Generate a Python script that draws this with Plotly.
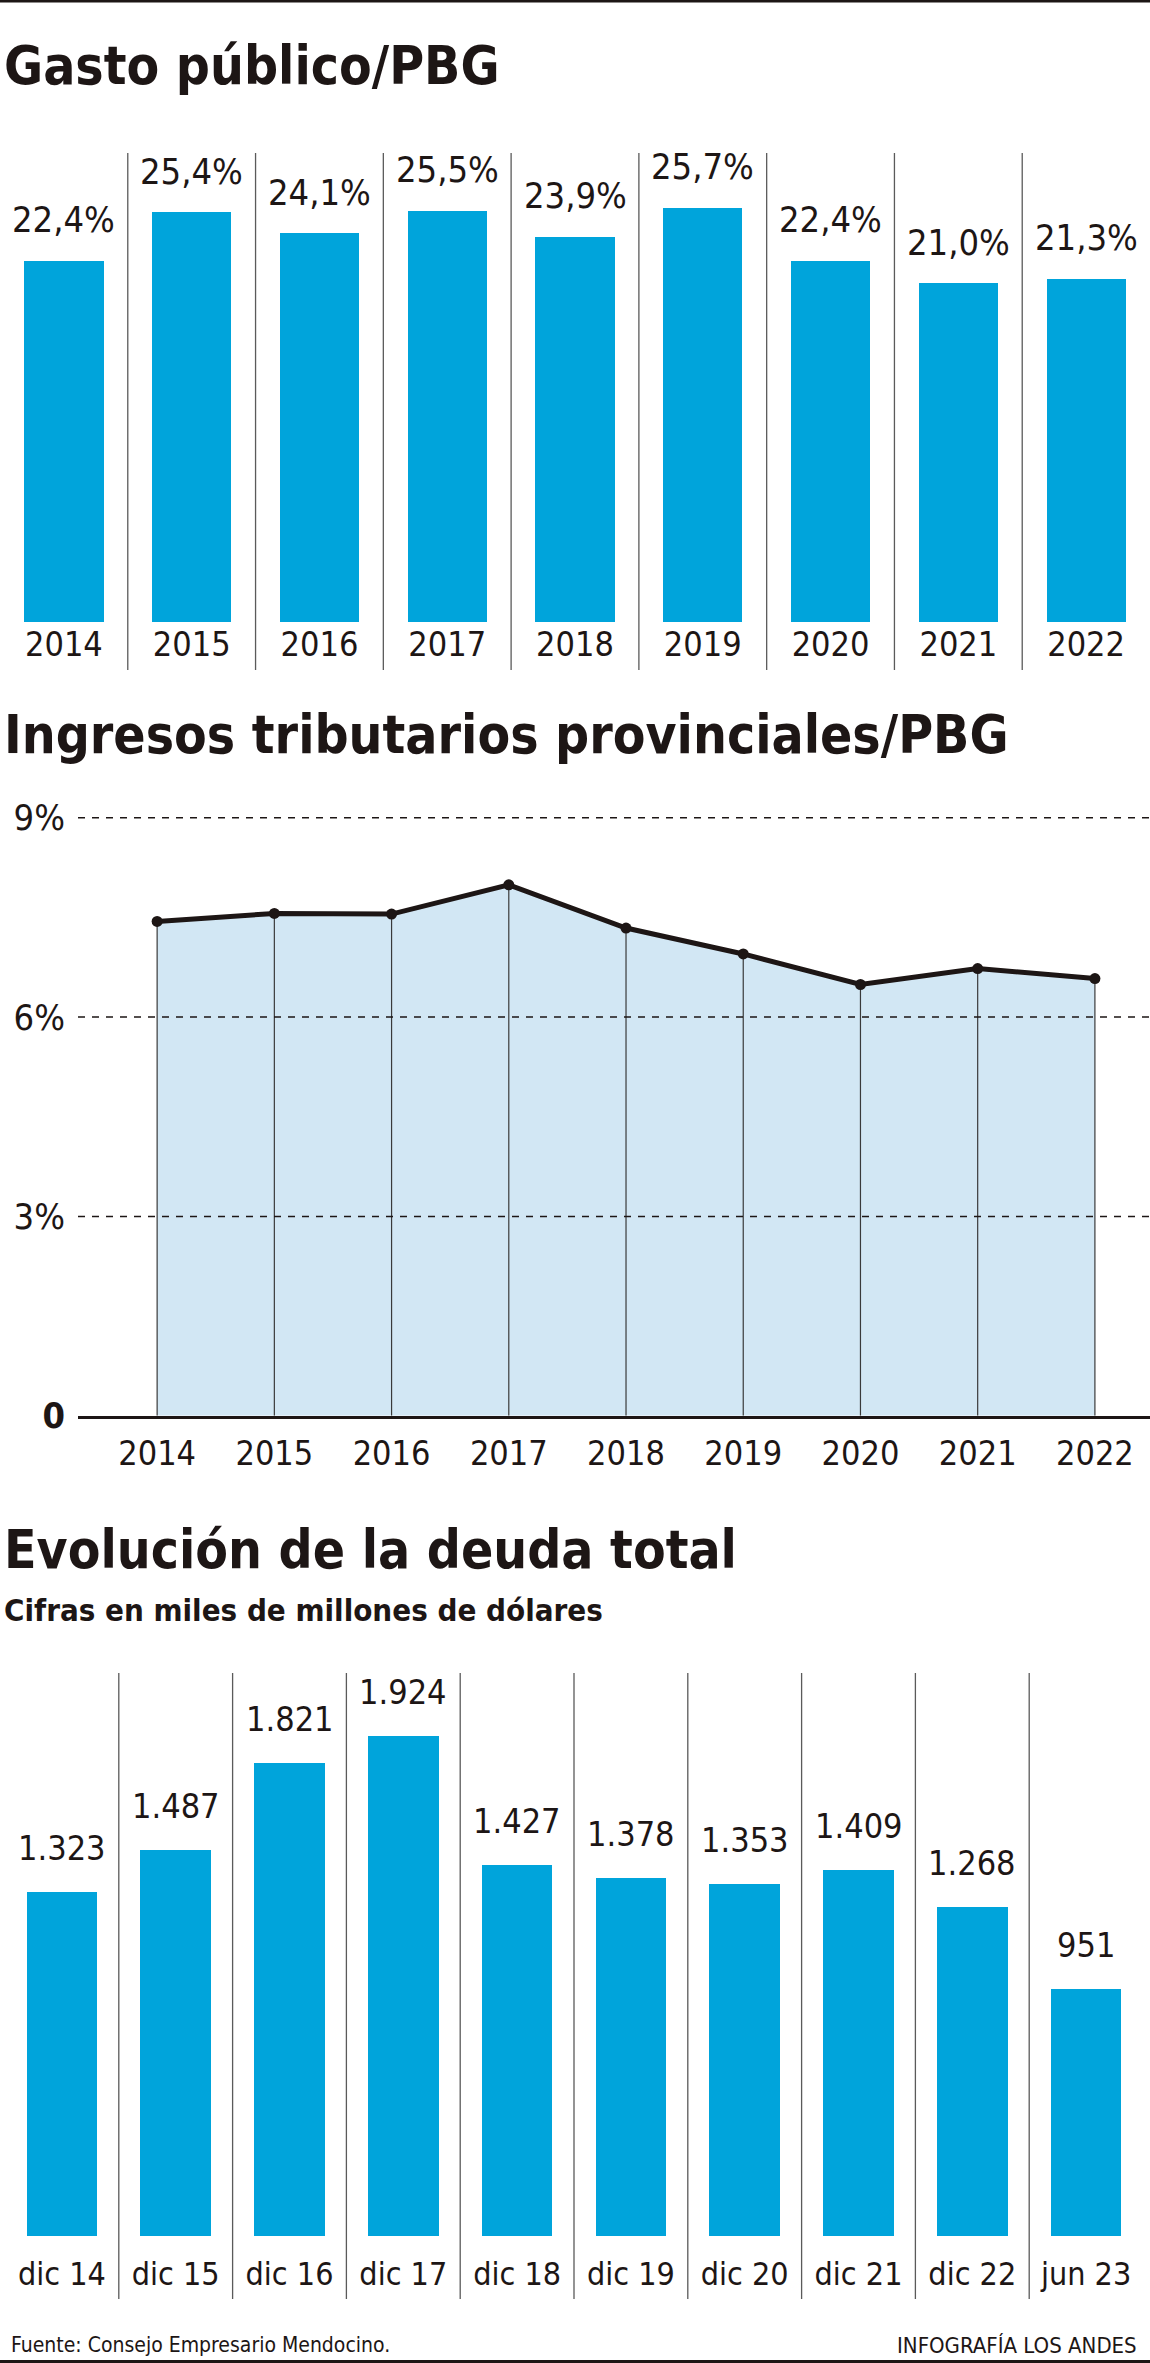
import plotly.graph_objects as go

# ---------------- data ----------------
years = ["2014", "2015", "2016", "2017", "2018", "2019", "2020", "2021", "2022"]
gasto_publico = [22.4, 25.4, 24.1, 25.5, 23.9, 25.7, 22.4, 21.0, 21.3]

ingresos_years = ["2014", "2015", "2016", "2017", "2018", "2019", "2020", "2021", "2022"]
ingresos_tributarios = [7.44, 7.56, 7.55, 7.99, 7.34, 6.95, 6.49, 6.73, 6.58]
ingresos_tickvals = [0, 3, 6, 9]
ingresos_ticktext = ["<b>0</b>", "3%", "6%", "9%"]

deuda_periodos = ["dic 14", "dic 15", "dic 16", "dic 17", "dic 18",
                  "dic 19", "dic 20", "dic 21", "dic 22", "jun 23"]
deuda_total = [1323, 1487, 1821, 1924, 1427, 1378, 1353, 1409, 1268, 951]

titles = ["Gasto público/PBG", "Ingresos tributarios provinciales/PBG", "Evolución de la deuda total"]
subtitle = "Cifras en miles de millones de dólares"
source = "Fuente: Consejo Empresario Mendocino."
credit = "INFOGRAFÍA LOS ANDES"

# ---------------- style ----------------
W, H = 1150, 2363
FONT = "DejaVu Sans Condensed, Liberation Sans Narrow, DejaVu Sans, sans-serif"
INK = "#1d1615"
BLUE = "#00a4db"
FILL = "#d2e7f4"
SEP = "#5a5a5a"


def py(px):
    return 1 - px / H


def fmt_pct(v):
    return f"{v:.1f}%".replace(".", ",")


def fmt_miles(v):
    return f"{v:,}".replace(",", ".")


fig = go.Figure()

# ---- chart 1: bars ----
fig.add_trace(go.Bar(x=list(range(len(years))), y=gasto_publico,
                     marker=dict(color=BLUE, line=dict(width=0)),
                     width=0.62, xaxis="x", yaxis="y", hoverinfo="skip"))

# ---- chart 2: area + verticals + line ----
ix = list(range(len(ingresos_years)))
fig.add_trace(go.Scatter(x=ix, y=ingresos_tributarios, mode="lines", fill="tozeroy",
                         fillcolor=FILL, line=dict(width=0), xaxis="x2", yaxis="y2", hoverinfo="skip"))
vx, vy = [], []
for c, v in zip(ix, ingresos_tributarios):
    vx += [c, c, None]
    vy += [0, v, None]
fig.add_trace(go.Scatter(x=vx, y=vy, mode="lines", line=dict(color="#3a3a3a", width=1.2),
                         xaxis="x2", yaxis="y2", hoverinfo="skip"))
fig.add_trace(go.Scatter(x=ix, y=ingresos_tributarios, mode="lines+markers",
                         line=dict(color=INK, width=5), marker=dict(color=INK, size=11),
                         xaxis="x2", yaxis="y2", hoverinfo="skip"))

# ---- chart 3: bars ----
dx = list(range(len(deuda_periodos)))
fig.add_trace(go.Bar(x=dx, y=deuda_total, marker=dict(color=BLUE, line=dict(width=0)),
                     width=0.62, xaxis="x3", yaxis="y3", hoverinfo="skip"))

shapes = []
annotations = []

# separators chart 1
for i in range(len(years) - 1):
    shapes.append(dict(type="line", xref="x", yref="paper", x0=i + 0.5, x1=i + 0.5,
                       y0=py(670), y1=py(153), line=dict(color=SEP, width=1.3)))
# separators chart 3
for i in range(len(deuda_periodos) - 1):
    shapes.append(dict(type="line", xref="x3", yref="paper", x0=i + 0.5, x1=i + 0.5,
                       y0=py(2299), y1=py(1673), line=dict(color=SEP, width=1.3)))
# dashed grid chart 2 (above the fill)
for t in ingresos_tickvals[1:]:
    shapes.append(dict(type="line", xref="x2 domain", yref="y2", x0=0, x1=1, y0=t, y1=t,
                       line=dict(color=INK, width=1.5, dash="7px,7px"), layer="above"))
# top and bottom rules
shapes.append(dict(type="line", xref="paper", yref="paper", x0=0, x1=1, y0=py(1), y1=py(1),
                   line=dict(color=INK, width=3)))
shapes.append(dict(type="line", xref="paper", yref="paper", x0=0, x1=1, y0=py(2361.5), y1=py(2361.5),
                   line=dict(color=INK, width=3)))

# value labels
for i, v in enumerate(gasto_publico):
    annotations.append(dict(x=i, y=v, xref="x", yref="y", text=fmt_pct(v), showarrow=False,
                            yanchor="middle", yshift=41, font=dict(family=FONT, size=36, color=INK)))
for i, v in enumerate(deuda_total):
    annotations.append(dict(x=i, y=v, xref="x3", yref="y3", text=fmt_miles(v), showarrow=False,
                            yanchor="middle", yshift=44, font=dict(family=FONT, size=34, color=INK)))

# titles
for txt, cy in zip(titles, [66, 734.5, 1549]):
    annotations.append(dict(x=0.002, y=py(cy), xref="paper", yref="paper", text=f"<b>{txt}</b>",
                            showarrow=False, xanchor="left", yanchor="middle",
                            font=dict(family=FONT, size=53, color=INK)))
annotations.append(dict(x=0.002, y=py(1610), xref="paper", yref="paper", text=f"<b>{subtitle}</b>",
                        showarrow=False, xanchor="left", yanchor="middle",
                        font=dict(family=FONT, size=31, color=INK)))
annotations.append(dict(x=9 / W, y=py(2345), xref="paper", yref="paper", text=source,
                        showarrow=False, xanchor="left", yanchor="middle",
                        font=dict(family=FONT, size=21, color=INK)))
annotations.append(dict(x=1139 / W, y=py(2345), xref="paper", yref="paper", text=credit,
                        showarrow=False, xanchor="right", yanchor="middle",
                        font=dict(family=FONT, size=22, color=INK)))

axis_common = dict(showgrid=False, zeroline=False, ticks="", fixedrange=True, automargin=False,
                   tickangle=0)

fig.update_layout(
    template="none",
    width=W, height=H,
    margin=dict(l=0, r=0, t=0, b=0, pad=0),
    paper_bgcolor="white", plot_bgcolor="rgba(0,0,0,0)",
    showlegend=False, bargap=0,
    font=dict(family=FONT, color=INK),
    xaxis=dict(domain=[0, 1], range=[-0.5, 8.5], anchor="y",
               tickvals=list(range(len(years))), ticktext=years,
               tickfont=dict(family=FONT, size=34, color=INK), ticklabelstandoff=-1, **axis_common),
    yaxis=dict(domain=[py(622), py(153)], range=[0, 29.09], anchor="x", showticklabels=False,
               **axis_common),
    xaxis2=dict(domain=[78 / W, 1], range=[-0.675, 8.47], anchor="y2",
                tickvals=ix, ticktext=ingresos_years,
                showline=True, linecolor=INK, linewidth=3,
                tickfont=dict(family=FONT, size=34, color=INK), ticklabelstandoff=5, **axis_common),
    yaxis2=dict(domain=[py(1415.7), py(800)], range=[0, 9.267], anchor="x2",
                tickvals=ingresos_tickvals, ticktext=ingresos_ticktext, ticklabelstandoff=12,
                tickfont=dict(family=FONT, size=36, color=INK), **axis_common),
    xaxis3=dict(domain=[5 / W, 1143 / W], range=[-0.5, 9.5], anchor="y3",
                tickvals=dx, ticktext=deuda_periodos,
                tickfont=dict(family=FONT, size=32, color=INK), ticklabelstandoff=16, **axis_common),
    yaxis3=dict(domain=[py(2236), py(1673)], range=[0, 2167], anchor="x3", showticklabels=False,
                **axis_common),
    shapes=shapes,
    annotations=annotations,
)

fig.write_html(
    "out.html",
    config={"displayModeBar": False, "staticPlot": True},
    post_script="document.body.style.margin='0px';document.body.style.padding='0px';"
                "document.body.style.overflow='hidden';",
)
